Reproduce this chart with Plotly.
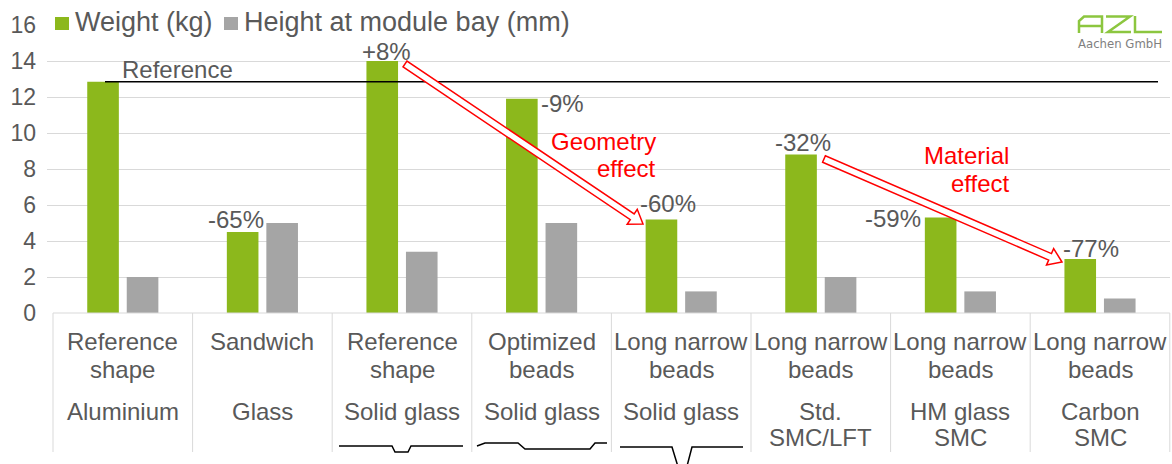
import math
import plotly.graph_objects as go

# ---------------- data ----------------
cat_ids = ["c1", "c2", "c3", "c4", "c5", "c6", "c7", "c8"]
shape_labels = [["Reference", "shape"], ["Sandwich"], ["Reference", "shape"],
                ["Optimized", "beads"], ["Long narrow", "beads"], ["Long narrow", "beads"],
                ["Long narrow", "beads"], ["Long narrow", "beads"]]
material_labels = [["Aluminium"], ["Glass"], ["Solid glass"], ["Solid glass"],
                   ["Solid glass"], ["Std.", "SMC/LFT"], ["HM glass", "SMC"], ["Carbon", "SMC"]]
weight_kg = [12.85, 4.5, 14.0, 11.9, 5.2, 8.8, 5.3, 3.0]
height_mm = [2.0, 5.0, 3.4, 5.0, 1.2, 2.0, 1.2, 0.8]
pct_labels = ["", "-65%", "+8%", "-9%", "-60%", "-32%", "-59%", "-77%"]
series_names = ["Weight (kg)", "Height at module bay (mm)"]
reference_value = weight_kg[0]

# ---------------- style / geometry ----------------
W, H = 1172, 464
ML, MR, MT, MB = 47, 2, 25, 151
PW, PH = W - ML - MR, H - MT - MB
GREEN = "#8CB81C"
GREY = "#A5A5A5"
TXT = "#595959"
FONT = "Liberation Sans, Arial, sans-serif"
CAT_W = 139.6
X0 = 53  # left edge of first category (px)


def px(xp):
    return (xp - ML) / PW


def py(yp):
    return (MT + PH - yp) / PH


x_range = [-0.5 - (X0 - ML) / CAT_W, -0.5 - (X0 - ML) / CAT_W + PW / CAT_W]

fig = go.Figure()
fig.add_trace(go.Bar(x=cat_ids, y=weight_kg, name=series_names[0], marker_color=GREEN,
                     marker_line_width=0, showlegend=False))
fig.add_trace(go.Bar(x=cat_ids, y=height_mm, name=series_names[1],
                     marker_color=GREY, marker_line_width=0, showlegend=False))

shapes = []
annotations = []

# white patches hiding the top gridline behind legend and logo
shapes.append(dict(type="rect", xref="paper", yref="paper", x0=px(40), x1=px(573),
                   y0=py(40), y1=py(8), fillcolor="white", line_width=0, layer="between"))
shapes.append(dict(type="rect", xref="paper", yref="paper", x0=px(1068), x1=px(1172),
                   y0=py(50), y1=py(8), fillcolor="white", line_width=0, layer="between"))

# manual legend
legend_items = [(55, 74, GREEN), (224, 243, GREY)]
for (sq_x, tx, col), name in zip(legend_items, series_names):
    shapes.append(dict(type="rect", xref="paper", yref="paper", x0=px(sq_x), x1=px(sq_x + 14),
                       y0=py(30), y1=py(17), fillcolor=col, line_width=0, layer="above"))
    annotations.append(dict(x=px(tx), xref="paper", y=py(22), yref="paper", text=name,
                            showarrow=False, xanchor="left", yanchor="middle", borderpad=0,
                            font=dict(family=FONT, size=27, color=TXT)))

# table lines under the axis
shapes.append(dict(type="line", xref="paper", yref="paper", x0=px(X0), x1=px(X0 + 8 * CAT_W),
                   y0=0, y1=0, line=dict(color="#D9D9D9", width=1)))
for i in range(9):
    xx = px(X0 + i * CAT_W)
    shapes.append(dict(type="line", xref="paper", yref="paper", x0=xx, x1=xx,
                       y0=0, y1=py(452), line=dict(color="#D9D9D9", width=1)))

# category labels
line_y_top = [341, 369]
line_y_bot = [411, 437]
for k, cid in enumerate(cat_ids):
    for j, t in enumerate(shape_labels[k]):
        annotations.append(dict(x=cid, xref="x", y=py(line_y_top[j]), yref="paper", text=t,
                                showarrow=False, xanchor="center", yanchor="middle",
                                font=dict(family=FONT, size=24, color=TXT)))
    for j, t in enumerate(material_labels[k]):
        annotations.append(dict(x=cid, xref="x", y=py(line_y_bot[j]), yref="paper", text=t,
                                showarrow=False, xanchor="center", yanchor="middle",
                                font=dict(family=FONT, size=24, color=TXT)))

# percentage labels (offsets in px relative to category centre / bar top)
pct_offsets = [(0, 0), (-26, 13), (-16, 10), (21, -5), (-13, 16), (-18, 12), (-67, -1), (-9, 11)]
for k, cid in enumerate(cat_ids):
    if not pct_labels[k]:
        continue
    dx, dy = pct_offsets[k]
    annotations.append(dict(x=cid, xref="x", y=weight_kg[k], yref="y", text=pct_labels[k],
                            showarrow=False, xanchor="center", yanchor="middle",
                            xshift=dx, yshift=dy, borderpad=0,
                            font=dict(family=FONT, size=24, color=TXT)))

# reference line + label
shapes.append(dict(type="line", xref="paper", yref="y", x0=px(105), x1=px(1158),
                   y0=reference_value, y1=reference_value, line=dict(color="black", width=1.5),
                   layer="above"))
annotations.append(dict(x=px(120), xref="paper", y=py(69), yref="paper", text="Reference",
                        showarrow=False, xanchor="left", yanchor="middle",
                        font=dict(family=FONT, size=24, color=TXT)))


# hollow block arrows
def block_arrow(tail, tip, sw=7, hw=18, hl=13):
    dx, dy = tip[0] - tail[0], tip[1] - tail[1]
    L = math.hypot(dx, dy)
    ux, uy = dx / L, dy / L
    nx, ny = -uy, ux
    neck = (tip[0] - ux * hl, tip[1] - uy * hl)
    pts = [
        (tail[0] + nx * sw / 2, tail[1] + ny * sw / 2),
        (neck[0] + nx * sw / 2, neck[1] + ny * sw / 2),
        (neck[0] + nx * hw / 2, neck[1] + ny * hw / 2),
        tip,
        (neck[0] - nx * hw / 2, neck[1] - ny * hw / 2),
        (neck[0] - nx * sw / 2, neck[1] - ny * sw / 2),
        (tail[0] - nx * sw / 2, tail[1] - ny * sw / 2),
    ]
    path = "M " + " L ".join(f"{px(a):.5f},{py(b):.5f}" for a, b in pts) + " Z"
    return dict(type="path", xref="paper", yref="paper", path=path, fillcolor="white",
                line=dict(color="#FF0000", width=1.5), layer="above")


shapes.append(block_arrow((405, 64), (643, 224)))
shapes.append(block_arrow((824, 159), (1062, 262)))

red_font = dict(family=FONT, size=24, color="#FF0000")
annotations += [
    dict(x=px(658), xref="paper", y=py(141), yref="paper", text="Geometry", showarrow=False,
         xanchor="right", yanchor="middle", font=red_font),
    dict(x=px(658), xref="paper", y=py(168), yref="paper", text="effect", showarrow=False,
         xanchor="right", yanchor="middle", font=red_font),
    dict(x=px(1011), xref="paper", y=py(155), yref="paper", text="Material", showarrow=False,
         xanchor="right", yanchor="middle", font=red_font),
    dict(x=px(1012), xref="paper", y=py(183), yref="paper", text="effect", showarrow=False,
         xanchor="right", yanchor="middle", font=red_font),
]


def polyline(points, color="black", width=1.5):
    path = "M " + " L ".join(f"{px(a):.5f},{py(b):.5f}" for a, b in points)
    return dict(type="path", xref="paper", yref="paper", path=path,
                line=dict(color=color, width=width), layer="above")


# cross-section sketches
shapes.append(polyline([(339, 446), (392, 446), (395, 452), (408, 452), (411, 446), (463, 446)]))
shapes.append(polyline([(477, 446), (485, 443), (518, 443), (525, 449), (590, 449),
                        (595, 443), (607, 443)]))
shapes.append(polyline([(620, 447), (672, 447), (679, 470)]))
shapes.append(polyline([(686, 470), (692, 447), (743, 447)]))

# logo (stylised letters A Z L)
LOGO = "#8CC63F"
shapes.append(polyline([(1079, 33), (1079, 21), (1084, 16.5), (1102, 16.5), (1102, 33)], LOGO, 2.5))
shapes.append(polyline([(1079, 26), (1102, 26)], LOGO, 2.5))
shapes.append(polyline([(1106, 16.5), (1130, 16.5), (1108, 32), (1131, 32)], LOGO, 2.5))
shapes.append(polyline([(1135, 16), (1135, 32), (1162, 32)], LOGO, 2.5))
annotations.append(dict(x=px(1120), xref="paper", y=py(43), yref="paper", text="Aachen GmbH",
                        showarrow=False, xanchor="center", yanchor="middle",
                        font=dict(family="DejaVu Sans Condensed, " + FONT, size=13,
                                  color="#7F7F7F")))

fig.update_layout(
    width=W, height=H,
    margin=dict(l=ML, r=MR, t=MT, b=MB, pad=0),
    paper_bgcolor="white", plot_bgcolor="white",
    barmode="group", bargap=0.434, bargroupgap=0.2,
    font=dict(family=FONT, size=23, color=TXT),
    showlegend=False,
    xaxis=dict(type="category", range=x_range, showticklabels=False, showgrid=False,
               zeroline=False, showline=False, ticks=""),
    yaxis=dict(range=[0, 16], dtick=2, showgrid=True, gridcolor="#D9D9D9", gridwidth=1,
               zeroline=False, showline=False, ticks="", ticklabelstandoff=10,
               tickfont=dict(family=FONT, size=23, color=TXT)),
    shapes=shapes,
    annotations=annotations,
)

fig.write_html("out.html", config={"displayModeBar": False})
